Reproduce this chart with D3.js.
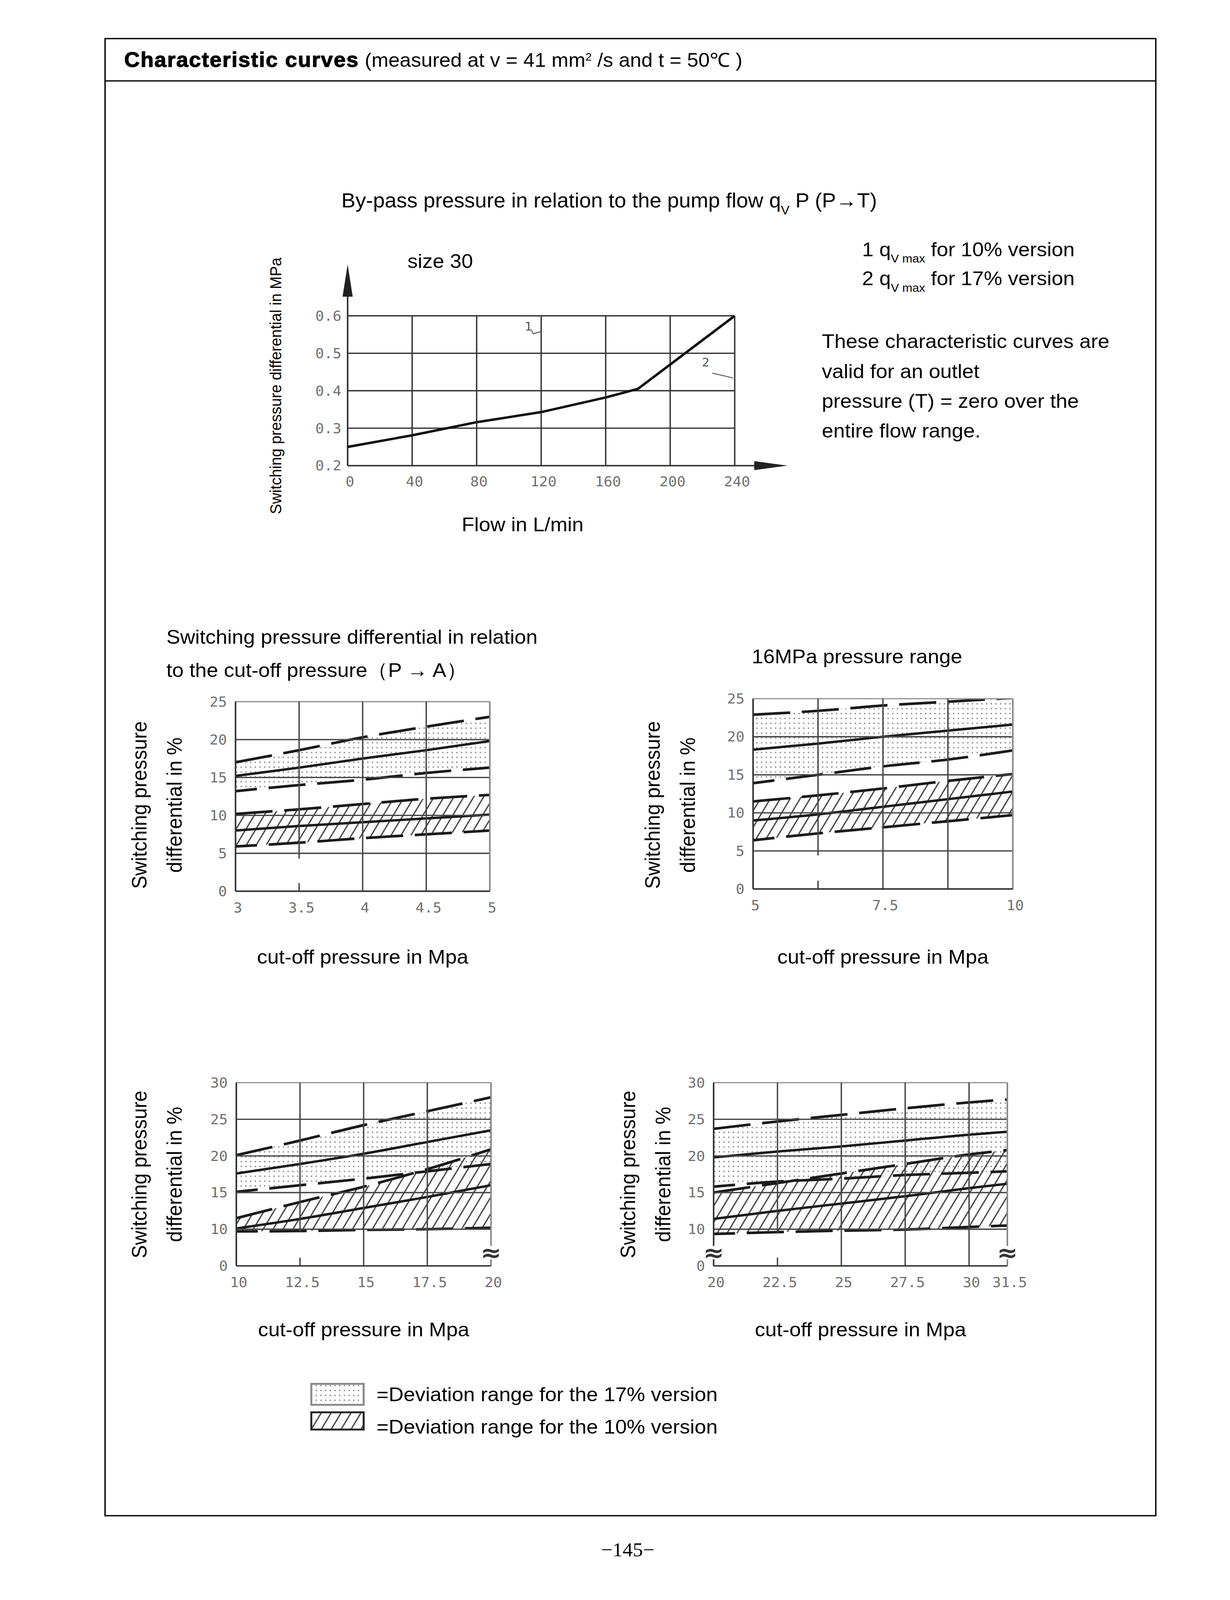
<html>
<head>
<script src="https://cdnjs.cloudflare.com/ajax/libs/d3/7.8.5/d3.min.js"></script>
<style>html,body{margin:0;padding:0;background:#fff;overflow:hidden}</style>
</head>
<body></body>
<script>
var W = 3149, H = 4271;
var SANS = "'Liberation Sans', Arial, sans-serif";
var TICKFONT = "'DejaVu Sans Mono', 'Liberation Mono', monospace";
var FS = 53;

// by-pass pressure vs pump flow (size 30)
var flowTicks = [0, 40, 80, 120, 160, 200, 240];
var bypassTicks = [0.2, 0.3, 0.4, 0.5, 0.6];
var bypassFlow = [0, 40, 80, 120, 160, 180, 240];
var bypassDp = [0.25, 0.281, 0.316, 0.343, 0.382, 0.405, 0.6];

// cut-off pressure 3..5 MPa
var cutA = [3, 3.5, 4, 4.5, 5];
var a17Hi = [17.0, 18.6, 20.3, 21.7, 23.0];
var a17Mid = [15.2, 16.3, 17.5, 18.6, 19.8];
var a17Lo = [13.2, 14.0, 14.7, 15.6, 16.3];
var a10Hi = [10.2, 10.8, 11.5, 12.2, 12.7];
var a10Mid = [8.0, 8.6, 9.1, 9.6, 10.1];
var a10Lo = [5.9, 6.4, 7.0, 7.5, 8.0];

// 16MPa range, 5..10 MPa
var cutB = [5, 6.25, 7.5, 8.75, 10];
var b17Hi = [22.9, 23.4, 24.1, 24.6, 25.1];
var b17Mid = [18.3, 19.1, 20.0, 20.8, 21.6];
var b17Lo = [13.9, 15.0, 16.1, 17.0, 18.2];
var b10Hi = [11.5, 12.3, 13.2, 14.2, 15.1];
var b10Mid = [9.0, 9.8, 10.8, 11.8, 12.8];
var b10Lo = [6.4, 7.3, 8.1, 8.9, 9.7];

// 10..20 MPa
var cutC = [10, 12.5, 15, 17.5, 20];
var c17Hi = [20.1, 22.1, 24.2, 26.1, 28.0];
var c17Mid = [17.6, 18.9, 20.3, 21.9, 23.5];
var c17Lo = [15.1, 16.0, 16.9, 17.9, 18.9];
var c10Hi = [11.5, 13.7, 15.8, 18.2, 20.9];
var c10Mid = [10.1, 11.4, 12.9, 14.4, 16.0];
var c10Lo = [9.4, 9.5, 9.8, 10.0, 10.2];

// 20..31.5 MPa
var cutD = [20, 22.5, 25, 27.5, 30, 31.5];
var d17Hi = [23.7, 24.7, 25.6, 26.5, 27.3, 27.7];
var d17Mid = [19.8, 20.6, 21.3, 22.1, 22.9, 23.3];
var d17Lo = [15.8, 16.5, 16.9, 17.4, 17.7, 17.9];
var d10Hi = [15.0, 16.3, 17.6, 18.9, 20.2, 20.8];
var d10Mid = [11.4, 12.5, 13.5, 14.5, 15.6, 16.2];
var d10Lo = [8.7, 9.2, 9.6, 9.9, 10.3, 10.5];

var yTicks25 = [0, 5, 10, 15, 20, 25];
var yTicks30 = [0, 10, 15, 20, 25, 30];

// fit the whole page into whatever viewport we get
var svg = d3.select("body").append("svg")
  .attr("viewBox", "0 0 " + W + " " + H)
  .attr("preserveAspectRatio", "none")
  .style("display", "block")
  .style("width", "100vw").style("height", "100vh")
  .style("background-color", "white");

var defs = svg.append("defs");
var dots = defs.append("pattern").attr("id", "dots")
  .attr("patternUnits", "userSpaceOnUse").attr("width", 12).attr("height", 13);
dots.append("rect").attr("x", 4).attr("y", 5).attr("width", 3.5).attr("height", 3.5).attr("fill", "#8a8a8a");
var hatch = defs.append("pattern").attr("id", "hatch")
  .attr("patternUnits", "userSpaceOnUse").attr("width", 22).attr("height", 22)
  .attr("patternTransform", "rotate(30)");
hatch.append("line").attr("x1", 2).attr("y1", 0).attr("x2", 2).attr("y2", 22)
  .attr("stroke", "#3a3a3a").attr("stroke-width", 3.2);

// page frame + header
svg.append("rect").attr("x", 269).attr("y", 103).attr("width", 2690).attr("height", 3943)
  .attr("fill", "none").attr("stroke", "#000").attr("stroke-width", 3.5);
svg.append("line").attr("x1", 269).attr("x2", 2959).attr("y1", 216).attr("y2", 216)
  .attr("stroke", "#000").attr("stroke-width", 3.5);
var hdr = svg.append("text").attr("x", 318).attr("y", 178)
  .style("font-family", SANS).style("font-size", "52px");
hdr.append("tspan").style("font-weight", "bold").style("font-size", "55px").style("letter-spacing", "2px")
  .attr("stroke", "#000").attr("stroke-width", 1.5).text("Characteristic curves");
hdr.append("tspan").text(" (measured at v = 41 mm");
hdr.append("tspan").attr("baseline-shift", "super").style("font-size", "29px").text("2");
hdr.append("tspan").text(" /s and t = 50\u2103 )");

function txt(x, y, s, size, anchor, rot) {
  var t = svg.append("text").attr("x", x).attr("y", y).attr("dy", "0.35em")
    .attr("text-anchor", anchor || "start")
    .style("font-family", SANS).style("font-size", size + "px").text(s);
  if (rot) t.attr("transform", "rotate(" + rot + "," + x + "," + y + ")");
  return t;
}

// ---------- chart 1: by-pass pressure ----------
(function() {
  var x = d3.scaleLinear().domain([0, 240]).range([890, 1881]);
  var y = d3.scaleLinear().domain([0.2, 0.6]).range([1243, 843]);
  var g = svg.append("g");

  var t = svg.append("text").attr("x", 874).attr("y", 535).attr("dy", "0.35em")
    .style("font-family", SANS).style("font-size", "54px");
  t.append("tspan").text("By-pass pressure in relation to the pump flow q");
  t.append("tspan").attr("baseline-shift", "sub").style("font-size", "33px").text("V");
  t.append("tspan").text(" P (P\u2192T)");
  txt(1043, 697, "size 30", FS);
  txt(706, 1030, "Switching pressure differential in MPa", 41, "middle", -90);
  txt(1338, 1400, "Flow in L/min", FS, "middle");

  g.selectAll(".hg").data(bypassTicks.slice(1)).enter().append("line")
    .attr("x1", x(0)).attr("x2", x(240)).attr("y1", y).attr("y2", y)
    .attr("stroke", "#333").attr("stroke-width", 3.5);
  g.selectAll(".vg").data(flowTicks.slice(1)).enter().append("line")
    .attr("x1", x).attr("x2", x).attr("y1", y(0.2)).attr("y2", y(0.6))
    .attr("stroke", "#333").attr("stroke-width", 3.5);
  // axes with arrows
  g.append("line").attr("x1", x(0)).attr("x2", x(0)).attr("y1", y(0.2)).attr("y2", 770)
    .attr("stroke", "#333").attr("stroke-width", 4);
  g.append("path").attr("d", "M" + x(0) + ",706 L" + (x(0) - 13) + ",792 L" + (x(0) + 13) + ",792 Z").attr("fill", "#222");
  g.append("line").attr("x1", x(0)).attr("x2", 1950).attr("y1", y(0.2)).attr("y2", y(0.2))
    .attr("stroke", "#333").attr("stroke-width", 4);
  g.append("path").attr("d", "M2016," + y(0.2) + " L1931," + (y(0.2) - 12) + " L1931," + (y(0.2) + 12) + " Z").attr("fill", "#222");

  g.selectAll(".yl").data(bypassTicks).enter().append("text")
    .attr("x", x(0) - 16).attr("y", y).attr("dy", "0.35em").attr("text-anchor", "end")
    .style("font-family", TICKFONT).style("font-size", "37px").attr("fill", "#707070")
    .text(d3.format(".1f"));
  g.selectAll(".xl").data(flowTicks).enter().append("text")
    .attr("x", function(d) { return x(d) + 6; }).attr("y", y(0.2) + 42).attr("dy", "0.35em").attr("text-anchor", "middle")
    .style("font-family", TICKFONT).style("font-size", "37px").attr("fill", "#707070")
    .text(function(d) { return d; });

  var line = d3.line().x(function(d) { return x(d[0]); }).y(function(d) { return y(d[1]); });
  g.append("path").datum(d3.zip(bypassFlow, bypassDp)).attr("d", line)
    .attr("fill", "none").attr("stroke", "#111").attr("stroke-width", 6.5);

  // curve markers 1 and 2
  g.append("text").attr("x", x(112)).attr("y", y(0.572)).attr("dy", "0.35em").attr("text-anchor", "middle")
    .style("font-family", TICKFONT).style("font-size", "32px").attr("fill", "#555").text("1");
  g.append("path").attr("d", "M" + x(114) + "," + y(0.562) + " L" + x(115) + "," + y(0.552) + " L" + x(120) + "," + y(0.558))
    .attr("fill", "none").attr("stroke", "#555").attr("stroke-width", 2.5);
  g.append("text").attr("x", x(222)).attr("y", y(0.476)).attr("dy", "0.35em").attr("text-anchor", "middle")
    .style("font-family", TICKFONT).style("font-size", "32px").attr("fill", "#555").text("2");
  g.append("path").attr("d", "M" + x(226) + "," + y(0.447) + " L" + x(239) + "," + y(0.434))
    .attr("fill", "none").attr("stroke", "#555").attr("stroke-width", 2.5);
})();

var n1 = svg.append("text").attr("x", 2207).attr("y", 665).attr("dy", "0.35em")
  .style("font-family", SANS).style("font-size", FS + "px");
n1.append("tspan").text("1 q");
n1.append("tspan").attr("baseline-shift", "sub").style("font-size", "31px").text("V max");
n1.append("tspan").text(" for 10% version");
var n2 = svg.append("text").attr("x", 2207).attr("y", 743).attr("dy", "0.35em")
  .style("font-family", SANS).style("font-size", FS + "px");
n2.append("tspan").text("2 q");
n2.append("tspan").attr("baseline-shift", "sub").style("font-size", "31px").text("V max");
n2.append("tspan").text(" for 17% version");
["These characteristic curves are", "valid for an outlet", "pressure (T) = zero over the", "entire flow range."]
  .forEach(function(s, i) { txt(2104, 911 + i * 79.5, s, FS); });

// ---------- band charts ----------
function drawBand(p) {
  var x = d3.scaleLinear().domain(p.xDomain).range([p.left, p.right]);
  var y;
  if (p.broken) {
    var step = (p.bottom - p.top) / 5;
    y = d3.scaleLinear().domain([0, 10, 30]).range([p.bottom, p.bottom - step, p.top]);
  } else {
    y = d3.scaleLinear().domain([0, p.yMax]).range([p.bottom, p.top]);
  }
  var g = svg.append("g");
  var clipId = "clip" + p.id;
  defs.append("clipPath").attr("id", clipId).append("rect")
    .attr("x", p.left).attr("y", p.top).attr("width", p.right - p.left).attr("height", p.bottom - p.top);
  var plot = g.append("g").attr("clip-path", "url(#" + clipId + ")");

  function area(lo, hi) {
    return d3.area().curve(d3.curveMonotoneX)
      .x(function(d, i) { return x(p.x[i]); })
      .y0(function(d, i) { return y(lo[i]); })
      .y1(function(d, i) { return y(hi[i]); })(p.x);
  }
  plot.append("path").attr("d", area(p.s17[2], p.s17[0])).attr("fill", "url(#dots)");
  plot.append("path").attr("d", area(p.s10[2], p.s10[0])).attr("fill", "url(#hatch)");

  var hLines = p.yTicks.filter(function(d) { return d > 0; });
  g.selectAll(".hg").data(hLines).enter().append("line")
    .attr("x1", p.left).attr("x2", p.right).attr("y1", y).attr("y2", y)
    .attr("stroke", function(d, i) { return i === hLines.length - 1 ? "#999" : "#444"; })
    .attr("stroke-width", 3.5);
  g.selectAll(".vg").data(p.xGrid).enter().append("line")
    .attr("x1", x).attr("x2", x)
    .attr("y1", function(d) { return d === p.shortGrid ? y(p.shortTo) : y(0); })
    .attr("y2", p.top)
    .attr("stroke", "#444").attr("stroke-width", 3.5);
  if (p.shortGrid !== undefined) {
    g.append("line").attr("x1", x(p.shortGrid)).attr("x2", x(p.shortGrid))
      .attr("y1", y(0)).attr("y2", y(0) - 22).attr("stroke", "#444").attr("stroke-width", 3.5);
  }
  g.append("line").attr("x1", p.right).attr("x2", p.right).attr("y1", p.top).attr("y2", p.bottom)
    .attr("stroke", "#888").attr("stroke-width", 4);
  g.append("line").attr("x1", p.left).attr("x2", p.left).attr("y1", p.top).attr("y2", p.bottom)
    .attr("stroke", "#333").attr("stroke-width", 4);
  g.append("line").attr("x1", p.left).attr("x2", p.right).attr("y1", p.bottom).attr("y2", p.bottom)
    .attr("stroke", "#333").attr("stroke-width", 4);

  function line(vals) {
    return d3.line().curve(d3.curveMonotoneX)
      .x(function(d, i) { return x(p.x[i]); })
      .y(function(d) { return y(d); })(vals);
  }
  [p.s17, p.s10].forEach(function(s) {
    plot.append("path").attr("d", line(s[0])).attr("fill", "none")
      .attr("stroke", "#1a1a1a").attr("stroke-width", 7).attr("stroke-dasharray", "95,30");
    plot.append("path").attr("d", line(s[1])).attr("fill", "none")
      .attr("stroke", "#1a1a1a").attr("stroke-width", 6.5);
    plot.append("path").attr("d", line(s[2])).attr("fill", "none")
      .attr("stroke", "#1a1a1a").attr("stroke-width", 7).attr("stroke-dasharray", "95,30")
      .attr("stroke-dashoffset", 40);
  });

  g.selectAll(".yl").data(p.yTicks).enter().append("text")
    .attr("x", p.left - 22).attr("y", y).attr("dy", "0.35em").attr("text-anchor", "end")
    .style("font-family", TICKFONT).style("font-size", "37px").attr("fill", "#707070")
    .text(function(d) { return d; });
  g.selectAll(".xl").data(p.xTicks).enter().append("text")
    .attr("x", function(d) { return x(d) + 6; }).attr("y", p.bottom + 44).attr("dy", "0.35em").attr("text-anchor", "middle")
    .style("font-family", TICKFONT).style("font-size", "37px").attr("fill", "#707070")
    .text(function(d) { return d; });

  (p.breaks || []).forEach(function(bx) {
    g.append("rect").attr("x", x(bx) - 10).attr("y", y(3.6) - 18).attr("width", 20).attr("height", 36).attr("fill", "white");
    g.append("text").attr("x", x(bx)).attr("y", y(3.6)).attr("dy", "0.35em").attr("text-anchor", "middle")
      .style("font-family", "'DejaVu Sans', sans-serif").style("font-size", "64px").style("font-weight", "bold")
      .attr("fill", "#333").text("\u2248");
  });

  txt(p.labX, p.labY, "Switching pressure", FS, "middle", -90);
  txt(p.labX + 90, p.labY, "differential in %", FS, "middle", -90);
  txt((p.left + p.right) / 2, p.xTitleY, "cut-off pressure in Mpa", FS, "middle");
}

txt(426, 1700, "Switching pressure differential in relation", FS);
txt(426, 1789, "to the cut-off pressure\uFF08P \u2192 A\uFF09", FS);
txt(2194, 1752, "16MPa pressure range", FS, "middle");

drawBand({id: "A", left: 603, right: 1254, top: 1873, bottom: 2379, yMax: 25,
  xDomain: [3, 5], x: cutA, xTicks: cutA, xGrid: [3.5, 4, 4.5], shortGrid: 3.5, shortTo: 4.3,
  yTicks: yTicks25, s17: [a17Hi, a17Mid, a17Lo], s10: [a10Hi, a10Mid, a10Lo],
  labX: 356, labY: 2149, xTitleY: 2554});
drawBand({id: "B", left: 1928, right: 2593, top: 1865, bottom: 2373, yMax: 25,
  xDomain: [5, 10], x: cutB, xTicks: [5, 7.5, 10], xGrid: [6.25, 7.5, 8.75], shortGrid: 6.25, shortTo: 4.4,
  yTicks: yTicks25, s17: [b17Hi, b17Mid, b17Lo], s10: [b10Hi, b10Mid, b10Lo],
  labX: 1670, labY: 2149, xTitleY: 2554});
drawBand({id: "C", left: 605, right: 1257, top: 2890, bottom: 3379, broken: true,
  xDomain: [10, 20], x: cutC, xTicks: cutC, xGrid: [12.5, 15, 17.5], shortGrid: 12.5, shortTo: 9.2,
  yTicks: yTicks30, s17: [c17Hi, c17Mid, c17Lo], s10: [c10Hi, c10Mid, c10Lo], breaks: [20],
  labX: 356, labY: 3135, xTitleY: 3549});
drawBand({id: "D", left: 1827, right: 2579, top: 2890, bottom: 3379, broken: true,
  xDomain: [20, 31.5], x: cutD, xTicks: cutD, xGrid: [22.5, 25, 27.5, 30], shortGrid: 22.5, shortTo: 8.8,
  yTicks: yTicks30, s17: [d17Hi, d17Mid, d17Lo], s10: [d10Hi, d10Mid, d10Lo], breaks: [20, 31.5],
  labX: 1607, labY: 3135, xTitleY: 3549});

// legend
svg.append("rect").attr("x", 797).attr("y", 3694).attr("width", 134).attr("height", 56)
  .attr("fill", "url(#dots)").attr("stroke", "#888").attr("stroke-width", 5);
svg.append("rect").attr("x", 797).attr("y", 3770).attr("width", 134).attr("height", 46)
  .attr("fill", "url(#hatch)").attr("stroke", "#222").attr("stroke-width", 5);
txt(964, 3722, "=Deviation range for the 17% version", FS);
txt(964, 3808, "=Deviation range for the 10% version", FS);

svg.append("text").attr("x", 1607).attr("y", 4136).attr("dy", "0.35em").attr("text-anchor", "middle")
  .style("font-family", "'Liberation Serif', 'Times New Roman', serif").style("font-size", "52px")
  .text("\u2212145\u2212");
</script>
</html>
